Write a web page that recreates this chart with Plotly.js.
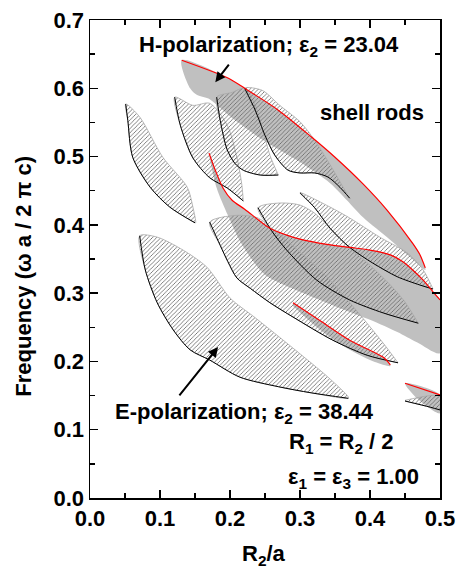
<!DOCTYPE html>
<html><head><meta charset="utf-8">
<script src="https://cdn.plot.ly/plotly-3.0.1.min.js"></script>
<style>html,body{margin:0;padding:0;background:#fff}</style>
</head><body>
<div id="plot" style="width:456px;height:573px"></div>
<script>
// ---- E-polarization gaps (hatched): lower (black) and upper band edges ----
const e1LowX = [0.051, 0.054, 0.061, 0.086, 0.114, 0.150];
const e1LowY = [0.577, 0.553, 0.499, 0.455, 0.426, 0.403];
const e1UpX  = [0.051, 0.071, 0.104, 0.139, 0.147, 0.151];
const e1UpY  = [0.577, 0.558, 0.499, 0.455, 0.426, 0.403];

const e2LowX = [0.071, 0.079, 0.096, 0.119, 0.143, 0.171, 0.214, 0.269, 0.316, 0.369];
const e2LowY = [0.384, 0.334, 0.286, 0.246, 0.217, 0.202, 0.177, 0.163, 0.154, 0.146];
const e2UpX  = [0.071, 0.096, 0.133, 0.167, 0.200, 0.236, 0.293, 0.340, 0.369];
const e2UpY  = [0.384, 0.382, 0.363, 0.338, 0.293, 0.264, 0.217, 0.177, 0.148];

const e3LowX = [0.121, 0.129, 0.147, 0.171, 0.196, 0.219];
const e3LowY = [0.587, 0.546, 0.498, 0.469, 0.454, 0.435];
const e3UpX  = [0.121, 0.147, 0.171, 0.196, 0.210, 0.217, 0.219];
const e3UpY  = [0.587, 0.575, 0.578, 0.546, 0.498, 0.458, 0.435];

const e4LowX = [0.181, 0.186, 0.196, 0.207, 0.219, 0.243, 0.269];
const e4LowY = [0.587, 0.553, 0.510, 0.490, 0.480, 0.473, 0.473];
const e4UpX  = [0.181, 0.203, 0.221, 0.236, 0.247, 0.257, 0.269];
const e4UpY  = [0.587, 0.594, 0.600, 0.575, 0.539, 0.502, 0.473];

const e5LowX = [0.221, 0.236, 0.250, 0.264, 0.283, 0.300, 0.321, 0.340, 0.357, 0.371];
const e5LowY = [0.600, 0.568, 0.531, 0.502, 0.480, 0.476, 0.476, 0.470, 0.455, 0.439];
const e5UpX  = [0.221, 0.246, 0.271, 0.300, 0.321, 0.343, 0.364, 0.371];
const e5UpY  = [0.600, 0.597, 0.575, 0.551, 0.524, 0.488, 0.451, 0.439];

const e6LowX = [0.240, 0.259, 0.281, 0.324, 0.371, 0.419, 0.469];
const e6LowY = [0.425, 0.392, 0.363, 0.319, 0.290, 0.271, 0.256];
const e6UpX  = [0.240, 0.271, 0.300, 0.321, 0.343, 0.371, 0.400, 0.429, 0.450, 0.469];
const e6UpY  = [0.425, 0.432, 0.429, 0.417, 0.395, 0.366, 0.341, 0.312, 0.287, 0.256];

const e7LowX = [0.300, 0.321, 0.343, 0.371, 0.404, 0.439, 0.471, 0.490];
const e7LowY = [0.447, 0.425, 0.395, 0.367, 0.344, 0.324, 0.312, 0.306];
const e7UpX  = [0.300, 0.343, 0.371, 0.414, 0.453, 0.476, 0.490];
const e7UpY  = [0.447, 0.426, 0.410, 0.382, 0.359, 0.334, 0.306];

const e8LowX = [0.171, 0.186, 0.197, 0.210, 0.229, 0.257, 0.290, 0.347, 0.396, 0.440];
const e8LowY = [0.404, 0.370, 0.346, 0.322, 0.307, 0.286, 0.265, 0.231, 0.209, 0.198];
const e8UpX  = [0.171, 0.210, 0.240, 0.271, 0.300, 0.343, 0.386, 0.421, 0.440];
const e8UpY  = [0.404, 0.414, 0.410, 0.385, 0.360, 0.319, 0.268, 0.224, 0.198];

const e9LowX = [0.450, 0.486, 0.500];
const e9LowY = [0.142, 0.133, 0.129];
const e9UpX  = [0.450, 0.500];
const e9UpY  = [0.143, 0.149];

// ---- H-polarization gaps (gray): lower and upper (red) band edges ----
const h1UpX  = [0.131, 0.197, 0.221, 0.269, 0.316, 0.350, 0.390, 0.424, 0.461, 0.471, 0.479];
const h1UpY  = [0.641, 0.615, 0.600, 0.568, 0.529, 0.499, 0.460, 0.422, 0.373, 0.357, 0.337];
const h1LowX = [0.131, 0.143, 0.153, 0.171, 0.183, 0.200, 0.243, 0.300, 0.343, 0.367, 0.390, 0.429, 0.457, 0.479];
const h1LowY = [0.641, 0.600, 0.590, 0.584, 0.574, 0.559, 0.527, 0.492, 0.461, 0.436, 0.411, 0.378, 0.353, 0.334];

const h2UpX  = [0.170, 0.179, 0.190, 0.203, 0.221, 0.257, 0.281, 0.300, 0.329, 0.371, 0.400, 0.429, 0.447, 0.461, 0.476, 0.490, 0.500];
const h2UpY  = [0.505, 0.480, 0.454, 0.436, 0.423, 0.395, 0.385, 0.379, 0.373, 0.367, 0.363, 0.356, 0.346, 0.334, 0.319, 0.302, 0.290];
const h2LowX = [0.170, 0.181, 0.197, 0.216, 0.243, 0.257, 0.300, 0.357, 0.400, 0.439, 0.467, 0.500];
const h2LowY = [0.505, 0.454, 0.414, 0.373, 0.334, 0.322, 0.302, 0.278, 0.261, 0.243, 0.228, 0.212];

const h3UpX  = [0.290, 0.331, 0.371, 0.419, 0.429];
const h3UpY  = [0.286, 0.258, 0.231, 0.206, 0.195];
const h3LowX = [0.290, 0.329, 0.371, 0.407, 0.429];
const h3LowY = [0.281, 0.246, 0.217, 0.199, 0.193];

const h4UpX  = [0.450, 0.500];
const h4UpY  = [0.168, 0.151];
const h4LowX = [0.450, 0.467, 0.500];
const h4LowY = [0.168, 0.146, 0.124];

// ---- tick labels ----
const xTicks = [0.0, 0.1, 0.2, 0.3, 0.4, 0.5];
const xTickText = ['0.0', '0.1', '0.2', '0.3', '0.4', '0.5'];
const yTicks = [0.0, 0.1, 0.2, 0.3, 0.4, 0.5, 0.6, 0.7];
const yTickText = ['0.0', '0.1', '0.2', '0.3', '0.4', '0.5', '0.6', '0.7'];

function poly(lx, ly, ux, uy) {
  return {x: lx.concat(ux.slice().reverse()), y: ly.concat(uy.slice().reverse())};
}

const eGaps = [
  [e1LowX, e1LowY, e1UpX, e1UpY], [e2LowX, e2LowY, e2UpX, e2UpY],
  [e3LowX, e3LowY, e3UpX, e3UpY], [e4LowX, e4LowY, e4UpX, e4UpY],
  [e5LowX, e5LowY, e5UpX, e5UpY], [e6LowX, e6LowY, e6UpX, e6UpY],
  [e7LowX, e7LowY, e7UpX, e7UpY], [e8LowX, e8LowY, e8UpX, e8UpY],
  [e9LowX, e9LowY, e9UpX, e9UpY]
];
const hGaps = [
  [h1LowX, h1LowY, h1UpX, h1UpY], [h2LowX, h2LowY, h2UpX, h2UpY],
  [h3LowX, h3LowY, h3UpX, h3UpY], [h4LowX, h4LowY, h4UpX, h4UpY]
];

const SM = 0.8;
const traces = [];
hGaps.forEach(g => {
  const p = poly(g[0], g[1], g[2], g[3]);
  traces.push({x: p.x, y: p.y, type: 'scatter', mode: 'lines', fill: 'toself',
    fillcolor: '#c0c0c0', line: {width: 0, color: '#c0c0c0', shape: 'spline', smoothing: SM},
    hoverinfo: 'skip', showlegend: false});
});
eGaps.forEach(g => {
  const p = poly(g[0], g[1], g[2], g[3]);
  traces.push({x: p.x, y: p.y, type: 'scatter', mode: 'lines', fill: 'toself',
    fillpattern: {shape: '/', fgcolor: '#6a6a6a', bgcolor: 'rgba(0,0,0,0)', size: 3, solidity: 0.28},
    line: {width: 0.8, color: '#a8a8a8', shape: 'spline', smoothing: SM}, hoverinfo: 'skip', showlegend: false});
});
eGaps.forEach(g => {
  traces.push({x: g[0], y: g[1], type: 'scatter', mode: 'lines',
    line: {width: 1, color: '#000', shape: 'spline', smoothing: SM}, hoverinfo: 'skip', showlegend: false});
});
hGaps.forEach(g => {
  traces.push({x: g[2], y: g[3], type: 'scatter', mode: 'lines',
    line: {width: 1.2, color: '#ff0000', shape: 'spline', smoothing: SM}, hoverinfo: 'skip', showlegend: false});
});

const F = 'Liberation Sans, Arial, sans-serif';
const FS = 22;
const axisCommon = {
  showgrid: false, zeroline: false, showline: true, linecolor: '#000', linewidth: 1.5,
  mirror: 'allticks', ticks: 'inside', ticklen: 8, tickwidth: 1.5, tickcolor: '#000',
  tickfont: {family: F, size: FS, color: '#000'},
  minor: {dtick: 0.05, ticks: 'inside', ticklen: 5, tickwidth: 1.5, tickcolor: '#000'}
};
const b = s => '<b>' + s + '</b>';

const layout = {
  width: 456, height: 573,
  margin: {l: 90, r: 16, t: 20, b: 75},
  paper_bgcolor: '#fff', plot_bgcolor: '#fff',
  font: {family: F, color: '#000'},
  xaxis: Object.assign({}, axisCommon, {range: [0, 0.5], tickvals: xTicks, ticktext: xTickText.map(b)}),
  yaxis: Object.assign({}, axisCommon, {range: [0, 0.7], tickvals: yTicks, ticktext: yTickText.map(b)}),
  annotations: [
    {xref: 'paper', yref: 'paper', x: -0.19, y: 0.464, textangle: -90, showarrow: false,
     text: b('Frequency (ω a / 2 π c)'), font: {family: F, size: FS, color: '#000'},
     xanchor: 'center', yanchor: 'middle'},
    {xref: 'paper', yref: 'paper', x: 0.497, y: -0.12, showarrow: false,
     text: b('R<sub>2</sub>/a'), font: {family: F, size: FS, color: '#000'},
     xanchor: 'center', yanchor: 'middle'},
    {x: 0.256, y: 0.662, showarrow: false, text: b('H-polarization; ε<sub>2</sub> = 23.04'),
     font: {family: F, size: FS, color: '#000'}, xanchor: 'center', yanchor: 'middle'},
    {x: 0.403, y: 0.565, showarrow: false, text: b('shell rods'),
     font: {family: F, size: FS, color: '#000'}, xanchor: 'center', yanchor: 'middle'},
    {x: 0.22, y: 0.124, showarrow: false, text: b('E-polarization; ε<sub>2</sub> = 38.44'),
     font: {family: F, size: FS, color: '#000'}, xanchor: 'center', yanchor: 'middle'},
    {x: 0.359, y: 0.080, showarrow: false, text: b('R<sub>1</sub> = R<sub>2</sub> / 2'),
     font: {family: F, size: FS, color: '#000'}, xanchor: 'center', yanchor: 'middle'},
    {x: 0.377, y: 0.030, showarrow: false, text: b('ε<sub>1</sub> = ε<sub>3</sub> = 1.00'),
     font: {family: F, size: FS, color: '#000'}, xanchor: 'center', yanchor: 'middle'},
    {x: 0.179, y: 0.609, ax: 0.2, ay: 0.637, axref: 'x', ayref: 'y', text: '', showarrow: true,
     arrowhead: 2, arrowsize: 1, arrowwidth: 2, arrowcolor: '#000'},
    {x: 0.183, y: 0.221, ax: 0.126, ay: 0.148, axref: 'x', ayref: 'y', text: '', showarrow: true,
     arrowhead: 2, arrowsize: 1, arrowwidth: 2, arrowcolor: '#000'}
  ]
};

Plotly.newPlot('plot', traces, layout, {displayModeBar: false, staticPlot: true});
</script>
</body></html>
